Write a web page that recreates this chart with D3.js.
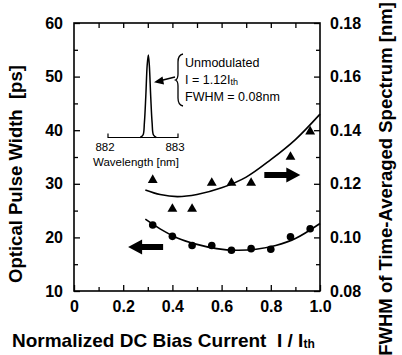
<!DOCTYPE html>
<html>
<head>
<meta charset="utf-8">
<script src="https://cdn.jsdelivr.net/npm/d3@7"></script>
<style>
  body { margin: 0; background: #fff; }
  svg { display: block; font-family: "Liberation Sans", Arial, sans-serif; }
  text { white-space: pre; }
</style>
</head>
<body>
<div id="chart"></div>
<script>
// bias current points (I / Ith)
const bias = [0.32, 0.40, 0.48, 0.56, 0.64, 0.72, 0.80, 0.88, 0.96];
// optical pulse width [ps], left axis
const pulseWidth = [22.3, 20.2, 18.5, 18.5, 17.6, 17.9, 17.8, 20.1, 21.6];
// FWHM of time-averaged spectrum [nm], right axis
const fwhmBias = [0.32, 0.40, 0.48, 0.56, 0.64, 0.72, 0.88, 0.96];
const fwhm = [0.1214, 0.1106, 0.1106, 0.1203, 0.1203, 0.1203, 0.1300, 0.1395];

// fitted curves
const fitPulseX = [0.29, 0.35, 0.42, 0.50, 0.58, 0.66, 0.74, 0.82, 0.90, 1.0];
const fitPulseY = [23.4, 21.6, 19.9, 18.7, 17.9, 17.6, 17.8, 18.5, 19.8, 22.6];
const fitFwhmX = [0.29, 0.35, 0.42, 0.50, 0.60, 0.70, 0.80, 0.90, 1.0];
const fitFwhmY = [0.1177, 0.1160, 0.1152, 0.1160, 0.1185, 0.1225, 0.1290, 0.1365, 0.1460];

// inset spectrum
const wavelength = [882.46, 882.50, 882.52, 882.54, 882.56, 882.576, 882.59, 882.61, 882.63, 882.65, 882.69];
const intensity = [0, 0.03, 0.18, 0.5, 0.88, 1.0, 0.88, 0.5, 0.18, 0.03, 0];

const xTicks = [0, 0.2, 0.4, 0.6, 0.8, 1.0];
const leftTicks = [10, 20, 30, 40, 50, 60];
const rightTicks = [0.08, 0.10, 0.12, 0.14, 0.16, 0.18];

const W = 402, H = 355;
const margin = { top: 23, right: 82, bottom: 64, left: 74 };
const width = W - margin.left - margin.right;
const height = H - margin.top - margin.bottom;

const svg = d3.select('#chart').append('svg')
  .attr('width', W).attr('height', H);
const g = svg.append('g')
  .attr('transform', `translate(${margin.left},${margin.top})`);

const x = d3.scaleLinear().domain([0, 1]).range([0, width]);
const yL = d3.scaleLinear().domain([10, 60]).range([height, 0]);
const yR = d3.scaleLinear().domain([0.08, 0.18]).range([height, 0]);

const bold = s => s.attr('font-weight', 'bold').attr('font-size', 16).attr('fill', '#000');

// axes: major ticks with labels, minor ticks without
g.append('g').attr('transform', `translate(0,${height})`)
  .call(d3.axisBottom(x).tickValues(xTicks)
    .tickFormat(d => d === 0 ? '0' : d3.format('.1f')(d))
    .tickSizeInner(-6).tickSizeOuter(0).tickPadding(10))
  .call(a => a.select('.domain').remove())
  .call(a => a.selectAll('text').call(bold));
g.append('g').attr('transform', `translate(0,${height})`)
  .call(d3.axisBottom(x).tickValues(d3.range(0.1, 1, 0.2)).tickFormat('').tickSizeInner(-4).tickSizeOuter(0))
  .call(a => a.select('.domain').remove());
g.append('g')
  .call(d3.axisTop(x).tickValues(d3.range(0.1, 1, 0.1)).tickFormat('').tickSizeInner(-5).tickSizeOuter(0))
  .call(a => a.select('.domain').remove());

g.append('g')
  .call(d3.axisLeft(yL).tickValues(leftTicks).tickSizeInner(-6).tickSizeOuter(0).tickPadding(11))
  .call(a => a.select('.domain').remove())
  .call(a => a.selectAll('text').call(bold));
g.append('g')
  .call(d3.axisLeft(yL).tickValues(d3.range(15, 60, 10)).tickFormat('').tickSizeInner(-4).tickSizeOuter(0))
  .call(a => a.select('.domain').remove());

g.append('g').attr('transform', `translate(${width},0)`)
  .call(d3.axisRight(yR).tickValues(rightTicks).tickFormat(d3.format('.2f'))
    .tickSizeInner(-6).tickSizeOuter(0).tickPadding(10))
  .call(a => a.select('.domain').remove())
  .call(a => a.selectAll('text').call(bold));
g.append('g').attr('transform', `translate(${width},0)`)
  .call(d3.axisRight(yR).tickValues(d3.range(0.09, 0.18, 0.02)).tickFormat('').tickSizeInner(-4).tickSizeOuter(0))
  .call(a => a.select('.domain').remove());

g.selectAll('.tick line').attr('stroke', '#000').attr('stroke-width', 1.3);

g.append('rect')
  .attr('width', width).attr('height', height)
  .attr('fill', 'none').attr('stroke', '#000').attr('stroke-width', 1.6);

// axis titles
svg.append('text')
  .attr('transform', `translate(22,174) rotate(-90)`)
  .attr('text-anchor', 'middle').attr('font-weight', 'bold').attr('font-size', 18.5)
  .text('Optical Pulse Width  [ps]');
svg.append('text')
  .attr('transform', `translate(392,179) rotate(-90)`)
  .attr('text-anchor', 'middle').attr('font-weight', 'bold').attr('font-size', 18.5)
  .text('FWHM of Time-Averaged Spectrum [nm]');
const xt = svg.append('text')
  .attr('x', 12).attr('y', 347)
  .attr('font-weight', 'bold').attr('font-size', 19)
  .text('Normalized DC Bias Current  I / I');
xt.append('tspan').attr('font-size', 12).attr('dy', 1).text('th');

// fit curves
const lineL = d3.line().x((d, i) => x(fitPulseX[i])).y(d => yL(d)).curve(d3.curveCatmullRom);
const lineR = d3.line().x((d, i) => x(fitFwhmX[i])).y(d => yR(d)).curve(d3.curveCatmullRom);
g.append('path').attr('d', lineL(fitPulseY))
  .attr('fill', 'none').attr('stroke', '#000').attr('stroke-width', 1.6);
g.append('path').attr('d', lineR(fitFwhmY))
  .attr('fill', 'none').attr('stroke', '#000').attr('stroke-width', 1.6);

// markers
g.selectAll('circle.pw').data(pulseWidth).enter().append('circle')
  .attr('cx', (d, i) => x(bias[i])).attr('cy', d => yL(d))
  .attr('r', 3.8).attr('fill', '#000');
g.selectAll('path.fw').data(fwhm).enter().append('path')
  .attr('d', d3.symbol(d3.symbolTriangle, 42))
  .attr('transform', (d, i) => `translate(${x(fwhmBias[i])},${yR(d)})`)
  .attr('fill', '#000');

// block arrows pointing to the axis each curve belongs to
function blockArrow(tipX, tipY, len, dir) {
  const head = 14, hw = 7.5, sw = 3;
  const p = [[0, 0], [head, -hw], [head, -sw], [len, -sw], [len, sw], [head, sw], [head, hw]]
    .map(([a, b]) => [tipX + dir * a, tipY + b]);
  return 'M' + p.join('L') + 'Z';
}
g.append('path').attr('d', blockArrow(x(0.22), yL(18.2), 35, 1)).attr('fill', '#000');
g.append('path').attr('d', blockArrow(x(0.92), yR(0.1233), 36, -1)).attr('fill', '#000');

// inset: spectrum of unmodulated laser
const ix = d3.scaleLinear().domain([882, 883]).range([108, 178]);
const iy = d3.scaleLinear().domain([0, 1]).range([137.5, 55]);
const inset = svg.append('g');
inset.append('path')
  .attr('d', `M${ix(882)},${iy(0) - 4}V${iy(0)}H${ix(883)}V${iy(0) - 4}`)
  .attr('fill', 'none').attr('stroke', '#000').attr('stroke-width', 1.2);
inset.append('path')
  .attr('d', d3.line().x((d, i) => ix(wavelength[i])).y(d => iy(d)).curve(d3.curveCatmullRom)(intensity))
  .attr('fill', 'none').attr('stroke', '#000').attr('stroke-width', 1.5);
inset.selectAll('text.tk').data([882, 883]).enter().append('text')
  .attr('x', d => ix(d) - 3).attr('y', 151).attr('text-anchor', 'middle')
  .attr('font-size', 11.5).text(d => d);
inset.append('text').attr('x', 93).attr('y', 166).attr('font-size', 11.5).text('Wavelength [nm]');

// annotation with brace and arrow
const ann = svg.append('g').attr('font-size', 12.5);
ann.append('text').attr('x', 185).attr('y', 67).text('Unmodulated');
const l2 = ann.append('text').attr('x', 185).attr('y', 84).text('I = 1.12I');
l2.append('tspan').attr('font-size', 9).attr('dy', 1).text('th');
ann.append('text').attr('x', 185).attr('y', 101).text('FWHM = 0.08nm');
ann.append('path')
  .attr('d', 'M183,54 Q178,55 178,62 L178,74 Q178,79 175.5,80 Q178,81 178,86 L178,98 Q178,105 183,106')
  .attr('fill', 'none').attr('stroke', '#000').attr('stroke-width', 1.3);
ann.append('line').attr('x1', 175).attr('y1', 77).attr('x2', 161).attr('y2', 80.5)
  .attr('stroke', '#000').attr('stroke-width', 1.5);
ann.append('path').attr('d', 'M154,82.3 L162.5,76.5 L164,84.5 Z').attr('fill', '#000');
</script>
</body>
</html>
